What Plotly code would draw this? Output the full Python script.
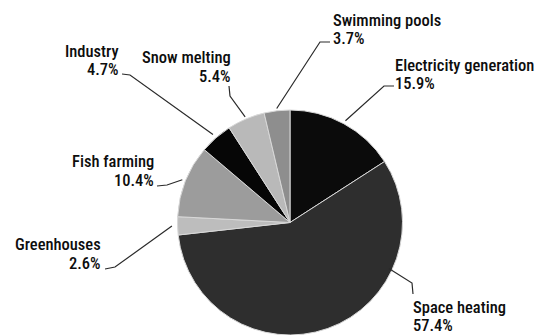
import math
import plotly.graph_objects as go

# ---- data ----
categories = ["Electricity generation", "Space heating", "Greenhouses", "Fish farming",
              "Industry", "Snow melting", "Swimming pools"]
shares = [15.9, 57.4, 2.6, 10.4, 4.7, 5.4, 3.7]
pct_labels = ["15.9%", "57.4%", "2.6%", "10.4%", "4.7%", "5.4%", "3.7%"]

# ---- style / layout ----
W, H = 534, 335
slice_colors = ["#0b0b0b", "#2e2e2e", "#bdbdbd", "#9c9c9c", "#060606", "#b9b9b9", "#8e8e8e"]
FONT = "Roboto Condensed, Roboto, sans-serif"
FS = 16.5
TXT = "#0d0d0d"

# pie geometry in pixels
CX, CY, R = 290, 222.5, 112.5
dom_x = [(CX - R) / W, (CX + R) / W]
dom_y = [(H - (CY + R)) / H, (H - (CY - R)) / H]

label_cfg = {
    "Electricity generation": dict(x=394, anchor="left", nb=71, pb=89.5,
                                   pts=[(394, 86), (384, 86)], frac=0.5, rf=1.03),
    "Space heating": dict(x=412, anchor="left", nb=313, pb=331.5,
                          pts=[(413, 294), (412, 283)], frac=0.28, rf=0.97),
    "Greenhouses": dict(x=102, anchor="right", nb=250, pb=269,
                        pts=[(105, 269), (115, 267)], frac=0.5, rf=1.05),
    "Fish farming": dict(x=155, anchor="right", nb=167.5, pb=186,
                         pts=[(157, 186), (167, 185)], frac=0.5, rf=1.03),
    "Industry": dict(x=120, anchor="right", nb=57.5, pb=76,
                     pts=[(122, 74), (130, 75)], frac=0.5, rf=1.04),
    "Snow melting": dict(x=232, anchor="right", nb=63.5, pb=82,
                         pts=[(229, 86), (230, 96)], frac=0.5, rf=1.02),
    "Swimming pools": dict(x=332, anchor="left", nb=26.5, pb=45,
                           pts=[(330, 42), (320, 42)], frac=0.5, rf=1.02),
}


def px(x):
    return x / W


def py(y):
    return 1 - y / H


fig = go.Figure(go.Pie(
    values=shares, labels=categories, sort=False, direction="clockwise", rotation=0,
    marker=dict(colors=slice_colors, line=dict(color="#d8d8d8", width=1)),
    textinfo="none", hoverinfo="label+percent", showlegend=False,
    domain=dict(x=dom_x, y=dom_y),
))

annotations = []
shapes = []
total = sum(shares)
cum = 0.0
for cat, val, pct in zip(categories, shares, pct_labels):
    cfg = label_cfg[cat]
    start = cum / total * 360
    end = (cum + val) / total * 360
    cum += val
    ang = math.radians(start + (end - start) * cfg["frac"])
    tx = CX + R * cfg["rf"] * math.sin(ang)
    ty = CY - R * cfg["rf"] * math.cos(ang)
    for text, base in ((cat, cfg["nb"]), (pct, cfg["pb"])):
        annotations.append(dict(
            text=text, x=px(cfg["x"]), y=py(base - 6.0), xref="paper", yref="paper",
            xanchor=cfg["anchor"], yanchor="middle", showarrow=False,
            align=cfg["anchor"], borderpad=0,
            font=dict(family=FONT, size=FS, color=TXT, weight=500),
        ))
    pts = cfg["pts"] + [(tx, ty)]
    path = "M " + " L ".join(f"{px(x):.5f},{py(y):.5f}" for x, y in pts)
    shapes.append(dict(type="path", path=path, xref="paper", yref="paper",
                       line=dict(color="#2a2a2a", width=1.2)))

fig.update_layout(
    width=W, height=H, margin=dict(l=0, r=0, t=0, b=0),
    paper_bgcolor="white", plot_bgcolor="white",
    annotations=annotations, shapes=shapes,
)

fig.write_html("out.html")
